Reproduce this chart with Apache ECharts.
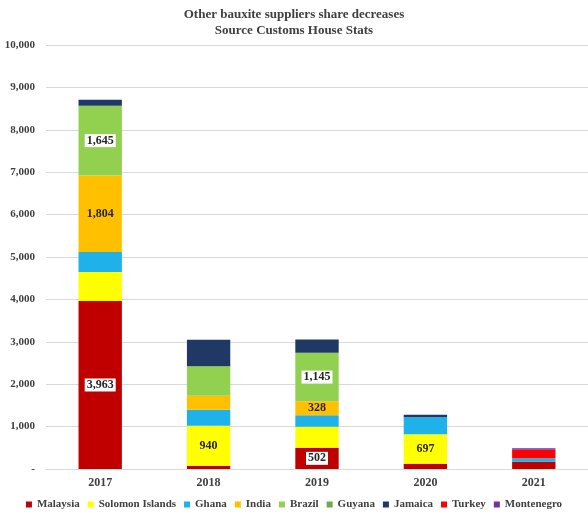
<!DOCTYPE html>
<html><head><meta charset="utf-8">
<script src="https://cdn.jsdelivr.net/npm/echarts@6/dist/echarts.min.js"></script>
<style>html,body{margin:0;padding:0;background:#fff}#c{width:588px;height:514px}</style>
</head><body><div id="c"></div>
<script>
var years = ['2017', '2018', '2019', '2020', '2021'];
var seriesNames = ['Malaysia', 'Solomon Islands', 'Ghana', 'India', 'Brazil', 'Guyana', 'Jamaica', 'Turkey', 'Montenegro'];
var malaysia   = [3963, 78, 502, 125, 172];
var solomon    = [683, 940, 495, 697, 0];
var ghana      = [472, 378, 270, 397, 80];
var india      = [1804, 330, 328, 0, 0];
var brazil     = [1645, 700, 1145, 0, 0];
var guyana     = [0, 0, 0, 0, 0];
var jamaica    = [140, 625, 317, 62, 0];
var turkey     = [0, 0, 0, 0, 200];
var montenegro = [0, 0, 0, 0, 35];
var yTicks = ['-', '1,000', '2,000', '3,000', '4,000', '5,000', '6,000', '7,000', '8,000', '9,000', '10,000'];
// which data points carry a value label
var labelIdx = { 'Malaysia': [0, 2], 'Solomon Islands': [1, 3], 'India': [0, 2], 'Brazil': [0, 2] };
var boxed = { 'Malaysia': true, 'Brazil': true };

var allData = [malaysia, solomon, ghana, india, brazil, guyana, jamaica, turkey, montenegro];
var colors = ['#C00000', '#FFFF00', '#1FB1EA', '#FFC000', '#92D050', '#6EAA48', '#203864', '#FF0000', '#7030A0'];
var FONT = '"Liberation Serif", "DejaVu Serif", serif';

var series = seriesNames.map(function (name, si) {
  var idx = labelIdx[name] || [];
  return {
    name: name, type: 'bar', stack: 'total', barWidth: '40%',
    itemStyle: { color: colors[si] },
    data: allData[si].map(function (v, i) {
      var item = { value: v };
      if (idx.indexOf(i) >= 0) {
        item.label = {
          show: true, position: 'inside',
          formatter: function (p) { return p.value.toLocaleString('en-US'); },
          fontFamily: FONT, fontWeight: 'bold', fontSize: 12, color: '#262626',
          backgroundColor: boxed[name] ? '#ffffff' : 'transparent',
          padding: boxed[name] ? [1, 2, 0, 2] : 0
        };
      }
      return item;
    })
  };
});

var chart = echarts.init(document.getElementById('c'));
chart.setOption({
  animation: false,
  title: {
    text: 'Other bauxite suppliers share decreases\nSource Customs House Stats',
    left: 'center', top: 2,
    textStyle: { fontFamily: FONT, fontWeight: 'bold', fontSize: 13, color: '#404040', lineHeight: 16 }
  },
  legend: {
    bottom: -1, left: 'center', icon: 'rect', itemWidth: 6, itemHeight: 6, itemGap: 8,
    textStyle: { fontFamily: FONT, fontWeight: 'bold', fontSize: 11, color: '#404040' },
    data: seriesNames
  },
  grid: { left: 46, right: 0, top: 45, bottom: 45 },
  xAxis: {
    type: 'category', data: years,
    axisTick: { show: false },
    axisLine: { lineStyle: { color: '#d9d9d9' } },
    axisLabel: { fontFamily: FONT, fontWeight: 'bold', fontSize: 12, color: '#404040', margin: 8 }
  },
  yAxis: {
    type: 'value', min: 0, max: 10000, interval: 1000,
    splitLine: { lineStyle: { color: '#d9d9d9' } },
    axisLabel: {
      fontFamily: FONT, fontWeight: 'bold', fontSize: 11, color: '#404040', margin: 11,
      formatter: function (v) { return yTicks[Math.round(v / 1000)]; }
    }
  },
  series: series
});
</script></body></html>
